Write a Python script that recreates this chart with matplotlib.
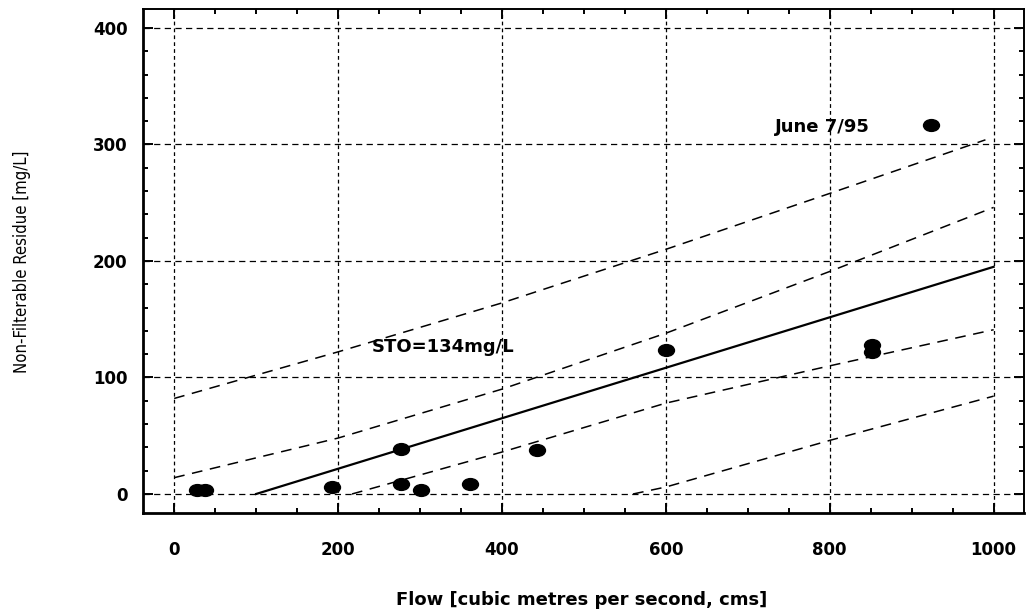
import matplotlib
matplotlib.use("Agg")
import matplotlib.pyplot as plt
from matplotlib.ticker import MultipleLocator
from matplotlib.markers import MarkerStyle
from matplotlib.transforms import Affine2D

# measured points (flow cms, NFR mg/L)
flow = [28, 38, 193, 277, 277, 301, 361, 443, 600, 852, 852, 924]
nfr = [3, 3, 6, 39, 9, 3, 8.5, 38, 123.5, 128, 122, 317]

# regression line
fit_x = [100, 1000]
fit_y = [0, 195]

# bands
up_pred_x = [0, 200, 400, 600, 800, 990]
up_pred_y = [82, 122, 164, 210, 258, 304]
up_conf_x = [0, 200, 400, 600, 800, 1000]
up_conf_y = [14, 48, 90, 138, 191, 246]
lo_conf_x = [217, 400, 600, 800, 1000]
lo_conf_y = [0, 36, 78, 110, 141]
lo_pred_x = [560, 600, 800, 1000]
lo_pred_y = [0, 6, 46, 84]

xticks = [0, 200, 400, 600, 800, 1000]
yticks = [0, 100, 200, 300, 400]

fig = plt.figure(figsize=(10.26, 6.12), dpi=100)
ax = fig.add_axes([0.1394, 0.1618, 0.8586, 0.8235])

# grid
for xv in xticks:
    ax.axvline(xv, color="black", lw=0.9, ls=(0, (3, 2.5)), zorder=1)
for yv in yticks:
    ax.axhline(yv, color="black", lw=0.9, ls=(0, (5, 3.5)), zorder=1)

band = dict(color="black", lw=1.1, ls=(0, (7, 5)), zorder=2)
ax.plot(up_pred_x, up_pred_y, **band)
ax.plot(up_conf_x, up_conf_y, **band)
ax.plot(lo_conf_x, lo_conf_y, **band)
ax.plot(lo_pred_x, lo_pred_y, **band)
ax.plot(fit_x, fit_y, color="black", lw=1.6, zorder=3)

# dots in the scan are a bit wider than tall
dot = MarkerStyle("o", transform=Affine2D().scale(1.35, 1.0))
ax.plot(flow, nfr, linestyle="none", marker=dot, color="black", ms=8.5, zorder=4)

ax.text(241, 126, "STO=134mg/L", fontsize=13, fontweight="bold", va="center")
ax.text(791, 315, "June 7/95", fontsize=13, fontweight="bold",
        ha="center", va="center")

ax.set_xlim(-38, 1037)
ax.set_ylim(-16.3, 416.3)
ax.set_xticks(xticks)
ax.set_yticks(yticks)
ax.xaxis.set_minor_locator(MultipleLocator(50))
ax.yaxis.set_minor_locator(MultipleLocator(20))
ax.tick_params(which="both", direction="in", top=True, right=True, width=1.4)
ax.tick_params(which="major", length=7.5)
ax.tick_params(which="minor", length=3.8)
ax.tick_params(axis="x", pad=20, labelsize=12)
ax.tick_params(axis="y", pad=11, labelsize=12)
for lab in ax.get_xticklabels() + ax.get_yticklabels():
    lab.set_fontweight("bold")

ax.spines["left"].set_linewidth(2)
ax.spines["bottom"].set_linewidth(2)
ax.spines["top"].set_linewidth(1.4)
ax.spines["right"].set_linewidth(1.4)

fig.text(582/1026, 1 - 600/612, "Flow [cubic metres per second, cms]",
         fontsize=13, fontweight="bold", ha="center", va="center")
fig.text(22/1026, 1 - 262/612, "Non-Filterable Residue [mg/L]",
         fontsize=12, rotation=90, ha="center", va="center",
         family="DejaVu Sans", fontstretch="condensed")

plt.savefig("out.png", dpi=100)
